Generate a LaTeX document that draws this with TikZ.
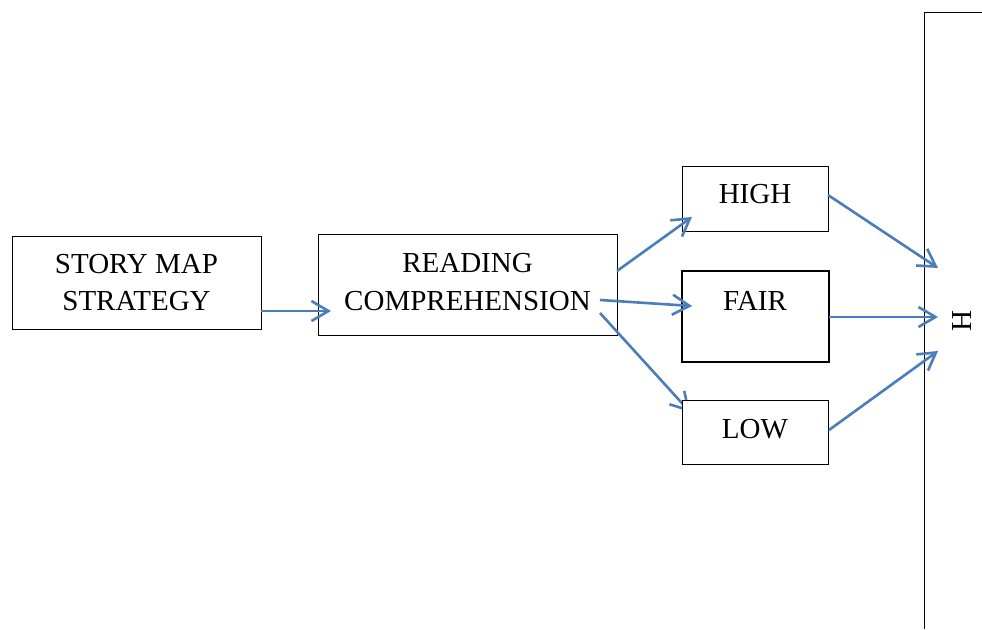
\documentclass[tikz,border=0pt]{standalone}
\usepackage{fontspec}
\setmainfont{Liberation Serif}
\usetikzlibrary{arrows.meta}
\definecolor{arrowblue}{RGB}{74,126,187}
\tikzset{
  box/.style={draw=black, line width=1pt, fill=white, inner sep=0pt},
  lbl/.style={font=\fontsize{29}{37}\selectfont, align=center, inner sep=0pt, anchor=base},
  conn/.style={draw=arrowblue, line width=2.6pt, -{Straight Barb[length=17pt,width=20pt,line width=2.6pt]}}
}
\begin{document}
\begin{tikzpicture}[x=1pt,y=-1pt]
\useasboundingbox (0,0) rectangle (982,629);
% bracket line on right
\coordinate (brtop) at (982,12);
\coordinate (brcorner) at (924,12);
\coordinate (brbot) at (924,629);
\draw[line width=1pt] (brtop) -- (brcorner) -- (brbot);
\node[rotate=-90, font=\fontsize{29}{37}\selectfont, inner sep=0pt] (H) at (962,321) {H};
% connector end points
\coordinate (s1) at (261,311);
\coordinate (r1) at (331,311);
\coordinate (ra) at (617,271);
\coordinate (ha) at (692,217);
\coordinate (rb) at (600,300);
\coordinate (fb) at (692,306);
\coordinate (rc) at (600,313);
\coordinate (lc) at (690,412);
\coordinate (hout) at (828,195);
\coordinate (hin) at (938,268);
\coordinate (fout) at (829,317);
\coordinate (fin) at (938,317);
\coordinate (lout) at (829,430);
\coordinate (lin) at (938,351);
% boxes (LOW drawn later so it hides its arrow tip)
\node[box, minimum width=249pt, minimum height=93pt] (story) at (136.5,282.5) {};
\node[box, minimum width=299pt, minimum height=101pt] (reading) at (467.5,284.5) {};
\node[box, minimum width=146pt, minimum height=65pt] (high) at (755,198.5) {};
\node[box, line width=2pt, minimum width=147pt, minimum height=91pt] (fair) at (755.5,316.5) {};
% arrows
\draw[conn] (s1) -- (r1);
\draw[conn] (ra) -- (ha);
\draw[conn] (rb) -- (fb);
\draw[conn] (rc) -- (lc);
\node[box, minimum width=146pt, minimum height=64pt] (low) at (755,432) {};
\draw[conn] (hout) -- (hin);
\draw[conn] (fout) -- (fin);
\draw[conn] (lout) -- (lin);
% labels
\node[lbl] (t1) at (136.5,273) {STORY MAP};
\node[lbl] (t2) at (136.5,310) {STRATEGY};
\node[lbl] (t3) at (467.5,272) {READING};
\node[lbl] (t4) at (467.5,310) {COMPREHENSION};
\node[lbl] (t5) at (755,203) {HIGH};
\node[lbl] (t6) at (755,310) {FAIR};
\node[lbl] (t7) at (755,438) {LOW};
\end{tikzpicture}
\end{document}
